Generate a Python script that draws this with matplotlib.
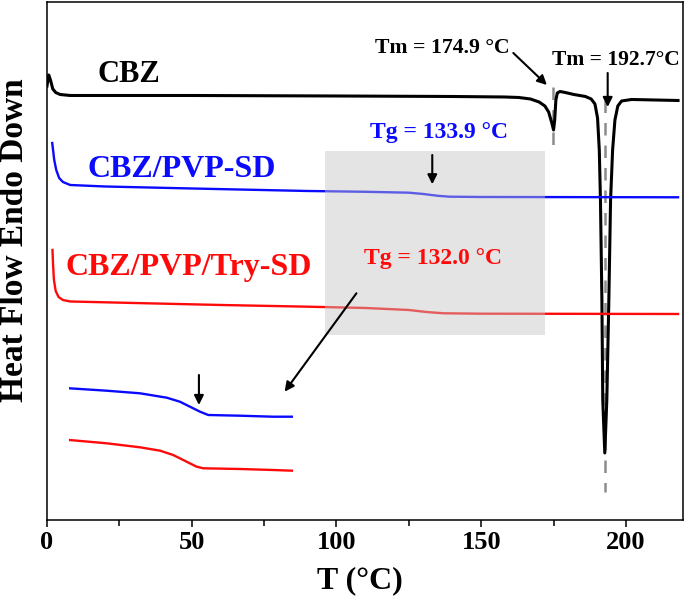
import matplotlib
matplotlib.use("Agg")
import matplotlib.pyplot as plt
from matplotlib.patches import Rectangle
from matplotlib.ticker import MultipleLocator

plt.rcParams['font.family'] = ['Liberation Serif', 'DejaVu Serif']
plt.rcParams['font.weight'] = 'bold'

# ---------------- data ----------------
# CBZ (black)
cbz_T = [0.0, 0.6, 1.2, 2.0, 3.0, 4.5, 8, 50, 100, 140, 158, 163, 167, 170, 172,
         173.3, 174.4, 175.0, 175.4, 175.8, 176.3, 177.2, 179, 182, 186, 188, 189.3,
         190.2, 190.8, 191.2, 191.7, 192.0, 192.7, 193.4, 194.1, 194.7, 195.4, 196.2,
         197.2, 198.5, 202, 210, 218]
cbz_hf = [4.34, 4.45, 4.40, 4.31, 4.275, 4.255, 4.245, 4.245, 4.24, 4.235, 4.23, 4.225,
          4.21, 4.18, 4.14, 4.08, 3.97, 3.90, 4.00, 4.20, 4.27, 4.285, 4.275, 4.255,
          4.235, 4.21, 4.16, 4.02, 3.70, 3.20, 2.20, 1.20, 0.67, 1.20, 2.20, 3.20, 3.70,
          4.00, 4.14, 4.19, 4.205, 4.20, 4.195]

# CBZ/PVP-SD (blue)
pvp_T = [1.8, 2.1, 2.5, 3.2, 4.2, 5.5, 8, 20, 50, 90, 110, 125, 130, 135, 139, 150, 218]
pvp_hf = [3.77, 3.70, 3.60, 3.50, 3.42, 3.38, 3.35, 3.335, 3.315, 3.29, 3.282, 3.273,
          3.26, 3.242, 3.233, 3.23, 3.227]

# CBZ/PVP/Try-SD (red)
try_T = [1.9, 2.1, 2.4, 3.0, 4.0, 5.5, 8, 30, 60, 90, 110, 125, 131, 137, 150, 218]
try_hf = [2.70, 2.55, 2.40, 2.29, 2.23, 2.20, 2.185, 2.17, 2.15, 2.133, 2.12, 2.10,
          2.08, 2.067, 2.063, 2.06]

# magnified Tg region (inset)
ins_pvp_T = [100.1, 110.1, 119.0, 126.2, 129.7, 132.4, 135.1, 137.3, 145.8, 154.6, 159.9]
ins_pvp = [0.917, 0.893, 0.867, 0.823, 0.783, 0.733, 0.683, 0.650, 0.643, 0.633, 0.633]
ins_try_T = [100.1, 110.1, 119.0, 124.4, 127.9, 131.5, 134.2, 136.0, 145.8, 154.7, 159.9]
ins_try = [0.400, 0.367, 0.327, 0.293, 0.250, 0.183, 0.133, 0.117, 0.110, 0.100, 0.093]

Tm1, Tm2 = 174.9, 192.7
Tg1, Tg2 = 133.9, 132.0
x_ticks = [0, 50, 100, 150, 200]

# ---------------- figure ----------------
fig = plt.figure(figsize=(6.85, 6.01), dpi=100)
ax = fig.add_axes([0.0686, 0.1348, 0.9284, 0.8619])

ax.plot(cbz_T, cbz_hf, color='black', lw=2.2, zorder=3)
ax.plot(pvp_T, pvp_hf, color='#0a0aff', lw=1.7, zorder=3)
ax.plot(try_T, try_hf, color='#ff0a0a', lw=1.7, zorder=3)

# gray translucent box over the Tg region
ax.add_patch(Rectangle((96.1, 1.85), 76.0, 1.84, facecolor='#c4c4c4', alpha=0.45,
                       edgecolor='none', zorder=4))

# dashed guide lines at the melting points
ax.plot([Tm1, Tm1], [4.33, 3.70], color='#8c8c8c', lw=1.8, ls=(0, (5, 4)), zorder=2)
ax.plot([Tm2, Tm2], [4.20, 0.28], color='#8c8c8c', lw=1.8, ls=(0, (5, 4)), zorder=2)

# labels
ax.text(28.2, 4.45, 'CBZ', color='black', fontsize=22, fontweight='bold', ha='center', va='center')
ax.text(46.5, 3.50, 'CBZ/PVP-SD', color='#0a0aff', fontsize=23, fontweight='bold', ha='center', va='center')
ax.text(48.9, 2.52, 'CBZ/PVP/Try-SD', color='#ff0a0a', fontsize=23, fontweight='bold', ha='center', va='center')

ax.text(136.7, 4.72, f'Tm = {Tm1} °C', color='black', fontsize=15.7, fontweight='bold', ha='center', va='center')
ax.text(196.7, 4.60, f'Tm = {Tm2}°C', color='black', fontsize=15.5, fontweight='bold', ha='center', va='center')
ax.text(135.3, 3.87, f'Tg = {Tg1} °C', color='#0a0aff', fontsize=17, fontweight='bold', ha='center', va='center')
ax.text(133.3, 2.61, f'Tg = {Tg2} °C', color='#ff0a0a', fontsize=17, fontweight='bold', ha='center', va='center', zorder=5)

arr = dict(arrowstyle='-|>', lw=1.5, color='black', mutation_scale=14, shrinkA=0, shrinkB=0)
ax.annotate('', xy=(172.7, 4.35), xytext=(161.1, 4.67), arrowprops=arr)
ax.annotate('', xy=(193.7, 4.13), xytext=(193.7, 4.47), arrowprops=arr)
ax.annotate('', xy=(133.1, 3.357), xytext=(133.1, 3.65), arrowprops=arr, zorder=5)
ax.annotate('', xy=(82.1, 1.283), xytext=(106.9, 2.267), arrowprops=arr, zorder=5)

ax.set_xlim(0, 219.7)
ax.set_ylim(0, 5.18)
ax.set_xticks(x_ticks)
ax.xaxis.set_minor_locator(MultipleLocator(25))
ax.set_yticks([])
ax.tick_params(axis='x', which='major', direction='out', length=5, width=1.1,
               labelsize=19, pad=3)
ax.tick_params(axis='x', which='minor', direction='out', length=4, width=1.1)
for lab in ax.get_xticklabels():
    lab.set_fontweight('bold')
for s in ax.spines.values():
    s.set_linewidth(1.1)

# axis titles
fig.text(360 / 685, 1 - 588 / 601, 'T (°C)', fontsize=23, fontweight='bold',
         ha='center', va='baseline')
fig.text(23 / 685, 1 - 240 / 601, 'Heat Flow Endo Down', fontsize=24, fontweight='bold',
         rotation=90, rotation_mode='anchor', ha='center', va='baseline')

# inset with magnified Tg steps
ins = fig.add_axes([69 / 685, (601 - 480) / 601, 224 / 685, 110 / 601])
ins.plot(ins_pvp_T, ins_pvp, color='#0a0aff', lw=1.7)
ins.plot(ins_try_T, ins_try, color='#ff0a0a', lw=1.7)
ins.annotate('', xy=(134.8, 0.75), xytext=(134.8, 1.05), arrowprops=arr)
ins.set_xlim(100, 160)
ins.set_ylim(0, 1.10)
ins.axis('off')

fig.savefig('out.png', dpi=100)
